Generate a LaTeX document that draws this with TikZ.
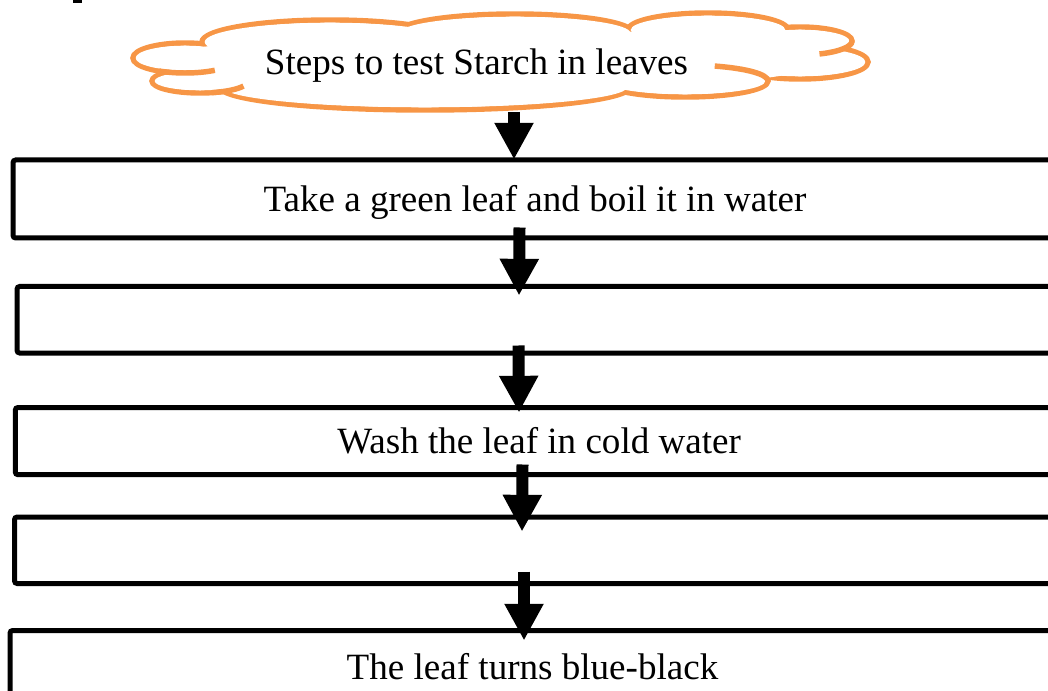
\documentclass[tikz,border=0pt]{standalone}
\usepackage{fontspec}
\setmainfont{Liberation Serif}
\usetikzlibrary{arrows.meta,calc}
\definecolor{cloudorange}{HTML}{F79646}
\begin{document}
\begin{tikzpicture}[x=0.75pt,y=-0.75pt,
  cloudline/.style={draw=cloudorange,line width=4.1pt},
  stepbox/.style={draw=black,line width=3.75pt,rounded corners=2pt,inner sep=0pt,
    font=\fontsize{27.8pt}{33pt}\selectfont,text height=26.3pt,text depth=7.5pt},
  flowarrow/.style={draw=black,line width=9pt,-{Triangle[length=27.5pt,width=27.5pt]}},
  titletext/.style={inner sep=0pt,anchor=base,font=\fontsize{27.8pt}{33pt}\selectfont}]
\useasboundingbox (0,0) rectangle (1048,691);
\clip (0,0) rectangle (1048,691);
% fragment at top left
\fill[black] (73,0) rectangle (82,3);
% cloud
\foreach \cx/\cy/\rx/\ry in {185/58/52/15,200/81/48/12,425/87/205/23,685/81/83/16,800/62/68/17,800/41/52/14,708/30/80/17,515/33/118/19,330/42/128/22}
  \draw[cloudline] (\cx,\cy) ellipse [x radius=\rx, y radius=\ry];
\foreach \cx/\cy/\rx/\ry in {185/58/52/15,200/81/48/12,425/87/205/23,685/81/83/16,800/62/68/17,800/41/52/14,708/30/80/17,515/33/118/19,330/42/128/22}{
  \pgfmathsetmacro{\rxi}{\rx-2.7}\pgfmathsetmacro{\ryi}{\ry-2.7}
  \fill[white] (\cx,\cy) ellipse [x radius=\rxi, y radius=\ryi];}
\fill[white] (500,60) ellipse [x radius=326, y radius=31];
\draw[cloudline] ($(185,58)+(120:52 and 15)$) arc[start angle=120,end angle=55,x radius=52,y radius=15];
\draw[cloudline] ($(200,81)+(75:48 and 12)$) arc[start angle=75,end angle=25,x radius=48,y radius=12];
\draw[cloudline] ($(685,81)+(291:83 and 16)$) arc[start angle=291,end angle=360,x radius=83,y radius=16];
\draw[cloudline] ($(800,41)+(0:52 and 14)$) arc[start angle=0,end angle=68,x radius=52,y radius=14];
\node[titletext] (title) at (476.5,75) {Steps to test Starch in leaves};
\coordinate (cloudbot) at (514,112);
% boxes
\node[stepbox,minimum width=1044*0.75pt,minimum height=78*0.75pt] (b1) at (535,199) {Take a green leaf and boil it in water};
\node[stepbox,minimum width=1053*0.75pt,minimum height=66.5*0.75pt] (b2) at (543.5,319.75) {};
\node[stepbox,minimum width=1047.7*0.75pt,minimum height=67.2*0.75pt] (b3) at (539.15,441.1) {Wash the leaf in cold water};
\node[stepbox,minimum width=1055.5*0.75pt,minimum height=66.5*0.75pt] (b4) at (542.25,550.25) {};
\node[stepbox,minimum width=1045*0.75pt,minimum height=72*0.75pt] (b5) at (532.5,666.5) {The leaf turns blue-black};
% arrows
\draw[flowarrow] (cloudbot) -- ($(b1.north)+(-21,2)$);
\draw[flowarrow] ($(b1.south)+(-15.5,-13)$) -- ($(b2.north)+(-24.5,11.5)$);
\draw[flowarrow] ($(b2.south)+(-25,-10)$) -- ($(b3.north)+(-20.15,7.5)$);
\draw[flowarrow] ($(b3.south)+(-16.65,-12.7)$) -- ($(b4.north)+(-20.25,17)$);
\draw[flowarrow] ($(b4.south)+(-18.25,-14.5)$) -- ($(b5.north)+(-8.5,12.5)$);
\end{tikzpicture}
\end{document}
